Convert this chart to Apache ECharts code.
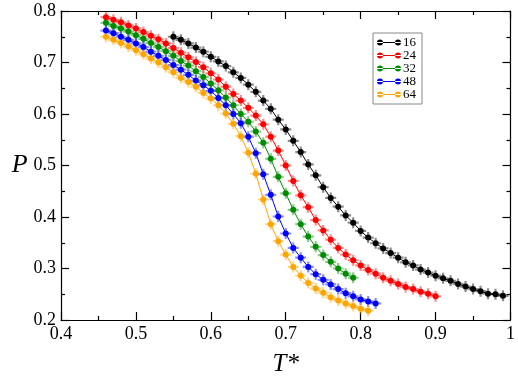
<!DOCTYPE html>
<html>
<head>
<meta charset="utf-8">
<script src="https://cdn.jsdelivr.net/npm/echarts@6/dist/echarts.min.js"></script>
<style>
  html, body { margin: 0; padding: 0; background: #fff; }
  #chart { width: 518px; height: 382px; }
</style>
</head>
<body>
<div id="chart"></div>
<script>
// reduced temperature T*, shared grid of points
const temps = [0.46, 0.47, 0.48, 0.49, 0.50, 0.51, 0.52, 0.53, 0.54, 0.55,
  0.56, 0.57, 0.58, 0.59, 0.60, 0.61, 0.62, 0.63, 0.64, 0.65,
  0.66, 0.67, 0.68, 0.69, 0.70, 0.71, 0.72, 0.73, 0.74, 0.75,
  0.76, 0.77, 0.78, 0.79, 0.80, 0.81, 0.82, 0.83, 0.84, 0.85,
  0.86, 0.87, 0.88, 0.89, 0.90, 0.91, 0.92, 0.93, 0.94, 0.95,
  0.96, 0.97, 0.98, 0.99]

const sizes = ['16', '24', '32', '48', '64']
const colors = ['#000000', '#ff0000', '#008c00', '#0000ff', '#ffa500']
// index into temps where each curve starts
const startIdx = [9, 0, 0, 0, 0]

const p16 = [0.750, 0.744, 0.737, 0.729, 0.721, 0.711, 0.702, 0.693, 0.681, 0.670,
  0.657, 0.643, 0.626, 0.610, 0.589, 0.570, 0.548, 0.526, 0.502, 0.481,
  0.458, 0.437, 0.420, 0.403, 0.389, 0.373, 0.360, 0.349, 0.339, 0.330,
  0.321, 0.312, 0.306, 0.298, 0.292, 0.286, 0.281, 0.276, 0.270, 0.265,
  0.260, 0.256, 0.251, 0.250, 0.247]
const p24 = [0.788, 0.783, 0.778, 0.772, 0.766, 0.759, 0.752, 0.745, 0.737, 0.728,
  0.719, 0.710, 0.701, 0.691, 0.679, 0.667, 0.653, 0.639, 0.626, 0.612,
  0.597, 0.580, 0.556, 0.529, 0.500, 0.470, 0.442, 0.419, 0.394, 0.374,
  0.356, 0.340, 0.327, 0.316, 0.306, 0.297, 0.290, 0.282, 0.276, 0.270,
  0.264, 0.260, 0.255, 0.251, 0.246]
const p32 = [0.777, 0.771, 0.766, 0.760, 0.753, 0.746, 0.738, 0.730, 0.722, 0.713,
  0.703, 0.694, 0.683, 0.672, 0.659, 0.646, 0.632, 0.617, 0.600, 0.585,
  0.566, 0.544, 0.513, 0.478, 0.446, 0.414, 0.386, 0.362, 0.342, 0.326,
  0.313, 0.300, 0.290, 0.282]
const p48 = [0.762, 0.757, 0.750, 0.744, 0.737, 0.730, 0.721, 0.713, 0.705, 0.695,
  0.686, 0.676, 0.665, 0.656, 0.645, 0.631, 0.617, 0.600, 0.582, 0.556,
  0.524, 0.483, 0.443, 0.401, 0.368, 0.340, 0.321, 0.303, 0.289, 0.278,
  0.269, 0.260, 0.252, 0.246, 0.240, 0.236, 0.232]
const p64 = [0.750, 0.744, 0.738, 0.731, 0.724, 0.716, 0.708, 0.700, 0.691, 0.681,
  0.670, 0.662, 0.653, 0.641, 0.630, 0.617, 0.601, 0.581, 0.557, 0.525,
  0.484, 0.434, 0.386, 0.353, 0.327, 0.303, 0.286, 0.272, 0.261, 0.253,
  0.244, 0.238, 0.232, 0.227, 0.222, 0.218]
const pValues = [p16, p24, p32, p48, p64]

const xTicks = { min: 0.4, max: 1.0, interval: 0.1 }
const yTicks = { min: 0.2, max: 0.8, interval: 0.1 }

const serif = 'Liberation Serif'
var myChart = echarts.init(document.getElementById('chart'))

function pairs (i) {
  return pValues[i].map((p, k) => [temps[startIdx[i] + k], p])
}

let series = []
sizes.forEach((name, i) => {
  // faint error-bar crosses behind the dots
  series.push({
    type: 'scatter',
    name: name + '-err',
    data: pairs(i),
    symbol: 'path://M4,0h2v4h4v2h-4v4h-2v-4h-4v-2h4z',
    symbolSize: 11,
    itemStyle: { color: colors[i], opacity: 0.45 },
    silent: true,
    z: 1
  })
  series.push({
    type: 'line',
    name: name,
    data: pairs(i),
    symbol: 'circle',
    symbolSize: 6,
    showAllSymbol: true,
    lineStyle: { color: colors[i], width: 1 },
    itemStyle: { color: colors[i], borderWidth: 0 },
    z: 2
  })
})

function axisBase (t, pos, showLabel) {
  return {
    type: 'value',
    position: pos,
    min: t.min,
    max: t.max,
    interval: t.interval,
    axisLine: { show: true, lineStyle: { color: '#000', width: 1.2 } },
    axisTick: { show: true, inside: true, length: 8, lineStyle: { color: '#000', width: 1.2 } },
    minorTick: { show: true, splitNumber: 2, length: 4, lineStyle: { color: '#000', width: 1.2 } },
    splitLine: { show: false },
    axisLabel: {
      show: showLabel,
      color: '#000',
      fontFamily: serif,
      fontSize: 18,
      margin: 5,
      formatter: v => (Math.abs(v - 1) < 1e-9 ? '1' : v.toFixed(1))
    }
  }
}

myChart.setOption({
  animation: false,
  backgroundColor: '#fff',
  grid: { left: 61, right: 5, top: 11, bottom: 56 },
  legend: {
    data: sizes,
    orient: 'vertical',
    left: 373,
    top: 33,
    padding: [3, 6, 3, 4],
    itemGap: 0,
    itemWidth: 24,
    itemHeight: 6,
    icon: 'path://M0,2.5L24,2.5L24,3.5L0,3.5Z M0,3A3,3,0,1,0,6,3A3,3,0,1,0,0,3Z M18,3A3,3,0,1,0,24,3A3,3,0,1,0,18,3Z',
    borderColor: '#888',
    borderWidth: 1,
    borderRadius: 0,
    textStyle: { fontFamily: serif, fontSize: 13, color: '#000', lineHeight: 12.7, padding: [0, 0, 0, -3] }
  },
  xAxis: [
    Object.assign(axisBase(xTicks, 'bottom', true), {
      name: 'T*',
      nameLocation: 'middle',
      nameGap: 32,
      nameTextStyle: { fontFamily: serif, fontStyle: 'italic', fontSize: 25, color: '#000' }
    }),
    axisBase(xTicks, 'top', false)
  ],
  yAxis: [
    Object.assign(axisBase(yTicks, 'left', true), {
      name: 'P',
      nameLocation: 'middle',
      nameRotate: 0,
      nameGap: 32,
      nameTextStyle: { fontFamily: serif, fontStyle: 'italic', fontSize: 26, color: '#000' }
    }),
    axisBase(yTicks, 'right', false)
  ],
  series: series
})
</script>
</body>
</html>
